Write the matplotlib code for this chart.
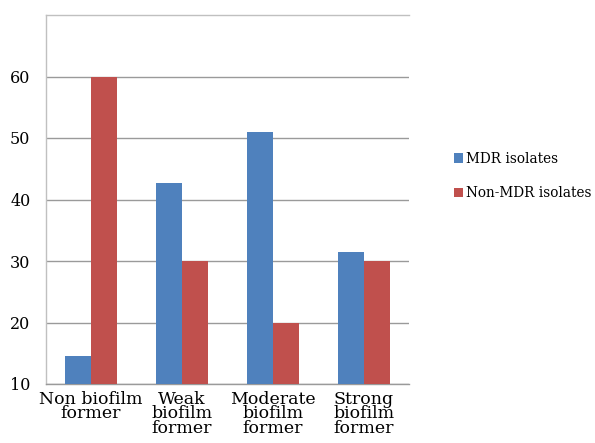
import matplotlib
matplotlib.use("Agg")
import matplotlib.pyplot as plt
import numpy as np

categories = ["Non biofilm\nformer", "Weak\nbiofilm\nformer", "Moderate\nbiofilm\nformer", "Strong\nbiofilm\nformer"]
mdr = [14.5, 42.7, 50.9, 31.5]
non_mdr = [60, 30, 20, 30]
series_names = ["MDR isolates", "Non-MDR isolates"]
yticks = [10, 20, 30, 40, 50, 60]

plt.rcParams["font.family"] = ["DejaVu Serif"]

fig = plt.figure(figsize=(5.95, 4.43), dpi=100)
ax = fig.add_axes([45.7 / 595, 1 - 384 / 443, (409 - 45.7) / 595, (384 - 15) / 443])

x = np.arange(len(categories))
w = 0.286
ax.bar(x - w / 2, mdr, w, color="#4F81BD", label=series_names[0], zorder=3)
ax.bar(x + w / 2, non_mdr, w, color="#C0504D", label=series_names[1], zorder=3)

ax.set_xlim(-0.5, len(categories) - 0.5)
ax.set_ylim(10, 70)
ax.set_yticks(yticks)
ax.set_yticklabels([str(v) for v in yticks], fontsize=11.5)
ax.yaxis.grid(True, color="#9a9a9a", linewidth=1.0, zorder=0)
ax.set_xticks(x)
ax.set_xticklabels(categories, fontsize=12.5, linespacing=0.8)
ax.tick_params(axis="both", length=0)
ax.tick_params(axis="y", pad=11)
ax.tick_params(axis="x", pad=5)

for side in ["top", "left"]:
    ax.spines[side].set_color("#c0c0c0")
    ax.spines[side].set_linewidth(1.0)
ax.spines["right"].set_visible(False)
ax.spines["bottom"].set_color("#9a9a9a")
ax.spines["bottom"].set_linewidth(1.0)

fig.legend(loc="center left", bbox_to_anchor=(451 / 595, 1 - 176 / 443),
           frameon=False, fontsize=9.8, handlelength=0.7, handleheight=0.7,
           handletextpad=0.2, labelspacing=1.5, borderaxespad=0.0,
           borderpad=0.2)

fig.savefig("out.png", dpi=100)
